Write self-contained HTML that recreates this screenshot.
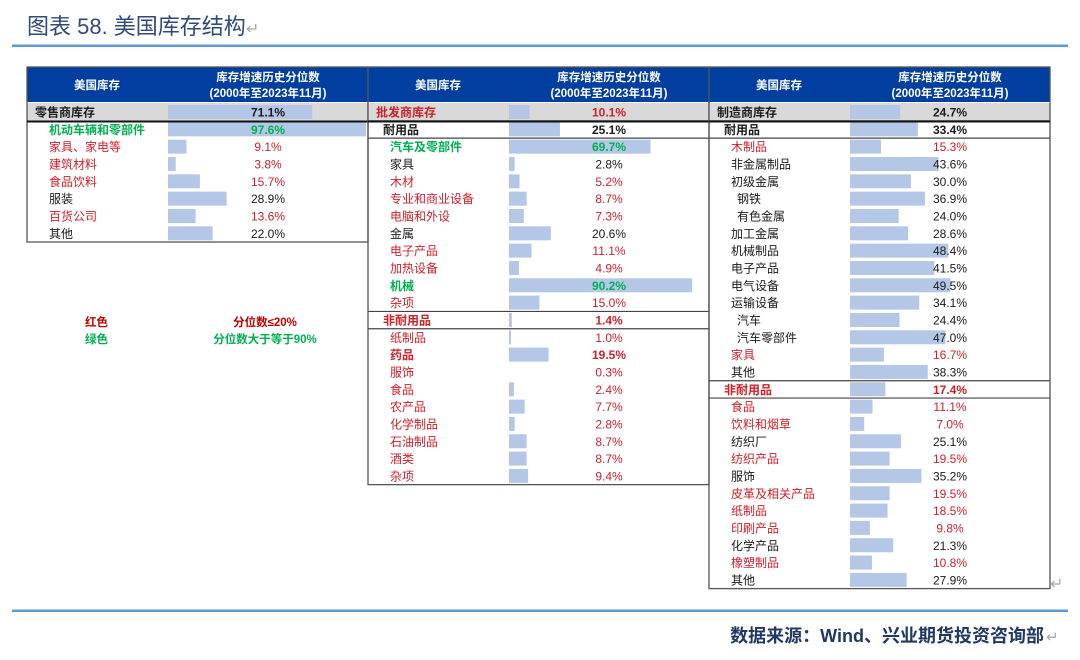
<!DOCTYPE html>
<html><head><meta charset="utf-8"><style>
body{margin:0;background:#fff;}
svg{display:block;font-family:"Liberation Sans","Noto Sans CJK SC",sans-serif;}
</style></head><body>
<svg id="s" width="1080" height="660" viewBox="0 0 1080 660">
<text x="27" y="34" font-size="22" fill="#2f4a7a">图表 58. 美国库存结构<tspan fill="#aaa" font-size="16">↵</tspan></text>
<rect x="12" y="44.5" width="1056" height="2.5" fill="#5b9bd5"/>
<rect x="12" y="609.5" width="1056" height="2.5" fill="#5b9bd5"/>
<text x="1044" y="642" font-size="18" font-weight="bold" fill="#1f3864" text-anchor="end">数据来源：Wind、兴业期货投资咨询部</text>
<text x="1046" y="642" font-size="15" fill="#aaa">↵</text>
<text x="1050" y="589" font-size="16" fill="#aaa">↵</text>
<g>
<text x="85" y="326" font-size="11.5" font-weight="bold" fill="#c00000">红色</text>
<text x="265" y="326" font-size="11.5" font-weight="bold" fill="#c00000" text-anchor="middle">分位数≤20%</text>
<text x="85" y="343" font-size="11.5" font-weight="bold" fill="#00b050">绿色</text>
<text x="265" y="343" font-size="11.5" font-weight="bold" fill="#00b050" text-anchor="middle">分位数大于等于90%</text>
</g>
</svg>
<script>
// Table 1: retail
const labels1=["零售商库存","机动车辆和零部件","家具、家电等","建筑材料","食品饮料","服装","百货公司","其他"];
const values1=[71.1,97.6,9.1,3.8,15.7,28.9,13.6,22.0];
const colors1=["k","g","r","r","r","k","r","k"];
const levels1=[0,2,2,2,2,2,2,2];
// Table 2: wholesale
const labels2=["批发商库存","耐用品","汽车及零部件","家具","木材","专业和商业设备","电脑和外设","金属","电子产品","加热设备","机械","杂项","非耐用品","纸制品","药品","服饰","食品","农产品","化学制品","石油制品","酒类","杂项"];
const values2=[10.1,25.1,69.7,2.8,5.2,8.7,7.3,20.6,11.1,4.9,90.2,15.0,1.4,1.0,19.5,0.3,2.4,7.7,2.8,8.7,8.7,9.4];
const colors2=["r","k","g","k","r","r","r","k","r","r","g","r","r","r","r","r","r","r","r","r","r","r"];
const levels2=[0,1,2,2,2,2,2,2,2,2,2,2,1,2,2,2,2,2,2,2,2,2];
const bolds2=[1,1,1,0,0,0,0,0,0,0,1,0,1,0,1,0,0,0,0,0,0,0];
// Table 3: manufacturing
const labels3=["制造商库存","耐用品","木制品","非金属制品","初级金属","钢铁","有色金属","加工金属","机械制品","电子产品","电气设备","运输设备","汽车","汽车零部件","家具","其他","非耐用品","食品","饮料和烟草","纺织厂","纺织产品","服饰","皮革及相关产品","纸制品","印刷产品","化学产品","橡塑制品","其他"];
const values3=[24.7,33.4,15.3,43.6,30.0,36.9,24.0,28.6,48.4,41.5,49.5,34.1,24.4,47.0,16.7,38.3,17.4,11.1,7.0,25.1,19.5,35.2,19.5,18.5,9.8,21.3,10.8,27.9];
const colors3=["k","k","r","k","k","k","k","k","k","k","k","k","k","k","r","k","r","r","r","k","r","k","r","r","r","k","r","k"];
const levels3=[0,1,2,2,2,3,3,2,2,2,2,2,3,3,2,2,1,2,2,2,2,2,2,2,2,2,2,2];

const svg=document.getElementById('s');
const NS='http://www.w3.org/2000/svg';
const COL={k:"#1a1a1a",r:"#d0202a",g:"#00b050"};
const ROW0=112, RH=17.33, PXPER=2.03;
function rowY(i){return ROW0+RH*i;}
function barW(v){return v*PXPER;}
function mk(tag,attrs){const e=document.createElementNS(NS,tag);for(const k in attrs)e.setAttribute(k,attrs[k]);svg.appendChild(e);return e;}

function table(ti,x0,labels,values,colors,levels,bolds){
  const w=341, barX=x0+141, valX=x0+241;
  const n=labels.length;
  const h=mk('rect',{x:x0,y:67,width:w,height:35,fill:'#003f9f'});
  
  
  const t1=mk('text',{x:x0+70,y:89,'font-size':11.5,'font-weight':'bold',fill:'#fff','text-anchor':'middle'});
  t1.textContent='美国库存';
  
  
  const t2=mk('text',{x:valX,y:81,'font-size':11.5,'font-weight':'bold',fill:'#fff','text-anchor':'middle'});
  t2.textContent='库存增速历史分位数';
  
  
  const t3=mk('text',{x:valX,y:97,'font-size':11.5,'font-weight':'bold',fill:'#fff','text-anchor':'middle'});
  t3.textContent='(2000年至2023年11月)';
  
  
  const sb=mk('rect',{x:x0,y:103,width:w,height:18,fill:'#d9d9d9'});
  
  
  for(let i=0;i<n;i++){
    const y=rowY(i);
    const bw=barW(values[i]);
    if(bw>0.8){
      const b=mk('rect',{x:barX,y:y-7,width:bw,height:14,fill:'#b4c7e7'});
      
      
    }
    const bold=(bolds?bolds[i]:(levels[i]<2||colors[i]==='g'));
    const indent=[8,15,22,28][levels[i]];
    const lb=mk('text',{x:x0+indent,y:y+4.5,'font-size':12,fill:COL[colors[i]],'font-weight':bold?'bold':'normal'});
    lb.textContent=labels[i];
    
    
    const vt=mk('text',{x:valX,y:y+4.5,'font-size':12,fill:COL[colors[i]],'font-weight':bold?'bold':'normal','text-anchor':'middle'});
    vt.textContent=values[i].toFixed(1)+'%';
    
    
    if(levels[i]===1){
      const l1=mk('line',{x1:x0,x2:x0+w,y1:y-8.5,y2:y-8.5,stroke:'#444','stroke-width':1.2});
      
      
      const l2=mk('line',{x1:x0,x2:x0+w,y1:y+8.8,y2:y+8.8,stroke:'#444','stroke-width':1.2});
      
      
    }
  }
  const bottom=rowY(n-1)+8.7;
  const fr=mk('rect',{x:x0,y:67,width:w,height:bottom-67,fill:'none',stroke:'#555','stroke-width':1.3});
  
  
  const th=mk('line',{x1:x0,x2:x0+w,y1:121.5,y2:121.5,stroke:'#111','stroke-width':2});
  
  
}
table(1,27,labels1,values1,colors1,levels1,null);
table(2,368,labels2,values2,colors2,levels2,bolds2);
table(3,709,labels3,values3,colors3,levels3,null);
</script>
</body></html>
